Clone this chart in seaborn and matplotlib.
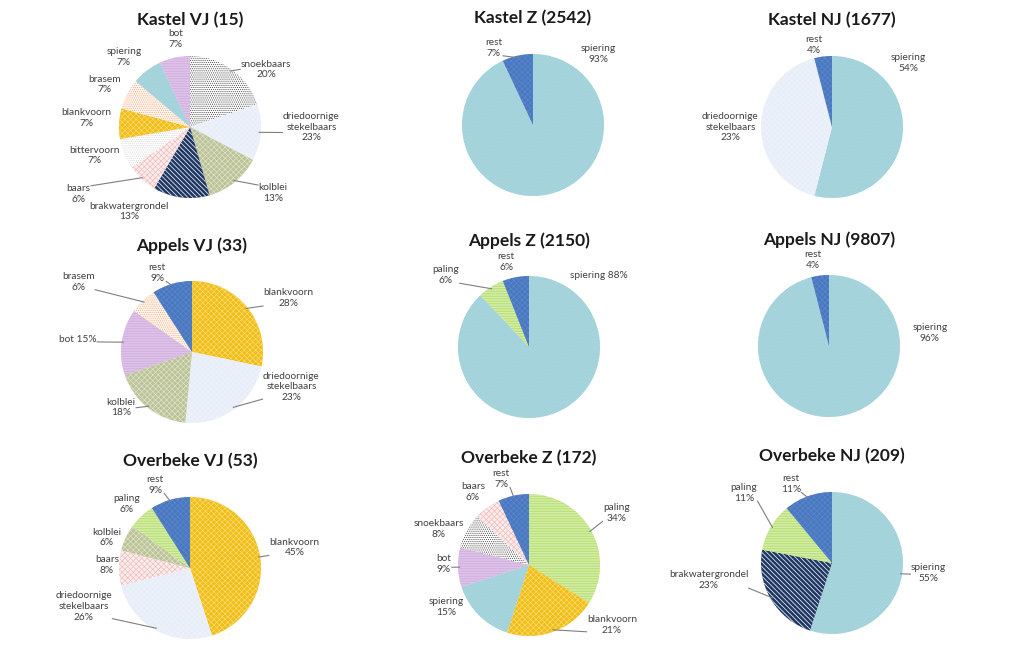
import numpy as np
import seaborn as sns
import matplotlib.pyplot as plt

sns.set_theme(style='white')
plt.rcParams['font.family'] = ['Lato', 'DejaVu Sans']
plt.rcParams['hatch.linewidth'] = 0.5

# every pie runs clockwise from 12 o'clock
# share = slice size as drawn, pct = percentage printed in the label
kastel_vj_species = ['snoekbaars', 'driedoornige stekelbaars', 'kolblei', 'brakwatergrondel', 'baars',
                     'bittervoorn', 'blankvoorn', 'brasem', 'spiering', 'bot']
kastel_vj_share = [20, 13, 13, 13, 7, 7, 7, 7, 7, 7]
kastel_vj_pct = [20, 23, 13, 13, 6, 7, 7, 7, 7, 7]

kastel_z_species = ['spiering', 'rest']
kastel_z_share = [93, 7]
kastel_z_pct = [93, 7]

kastel_nj_species = ['spiering', 'driedoornige stekelbaars', 'rest']
kastel_nj_share = [54, 42, 4]
kastel_nj_pct = [54, 23, 4]

appels_vj_species = ['blankvoorn', 'driedoornige stekelbaars', 'kolblei', 'bot', 'brasem', 'rest']
appels_vj_share = [28, 23, 18, 15, 6, 9]
appels_vj_pct = [28, 23, 18, 15, 6, 9]

appels_z_species = ['spiering', 'paling', 'rest']
appels_z_share = [88, 6, 6]
appels_z_pct = [88, 6, 6]

appels_nj_species = ['spiering', 'rest']
appels_nj_share = [96, 4]
appels_nj_pct = [96, 4]

overbeke_vj_species = ['blankvoorn', 'driedoornige stekelbaars', 'baars', 'kolblei', 'paling', 'rest']
overbeke_vj_share = [45, 26, 8, 6, 6, 9]
overbeke_vj_pct = [45, 26, 8, 6, 6, 9]

overbeke_z_species = ['paling', 'blankvoorn', 'spiering', 'bot', 'snoekbaars', 'baars', 'rest']
overbeke_z_share = [34, 21, 15, 9, 8, 6, 7]
overbeke_z_pct = [34, 21, 15, 9, 8, 6, 7]

overbeke_nj_species = ['spiering', 'brakwatergrondel', 'paling', 'rest']
overbeke_nj_share = [55, 23, 11, 11]
overbeke_nj_pct = [55, 23, 11, 11]

panels = [
    ('Kastel VJ (15)', kastel_vj_species, kastel_vj_share, kastel_vj_pct),
    ('Kastel Z (2542)', kastel_z_species, kastel_z_share, kastel_z_pct),
    ('Kastel NJ (1677)', kastel_nj_species, kastel_nj_share, kastel_nj_pct),
    ('Appels VJ (33)', appels_vj_species, appels_vj_share, appels_vj_pct),
    ('Appels Z (2150)', appels_z_species, appels_z_share, appels_z_pct),
    ('Appels NJ (9807)', appels_nj_species, appels_nj_share, appels_nj_pct),
    ('Overbeke VJ (53)', overbeke_vj_species, overbeke_vj_share, overbeke_vj_pct),
    ('Overbeke Z (172)', overbeke_z_species, overbeke_z_share, overbeke_z_pct),
    ('Overbeke NJ (209)', overbeke_nj_species, overbeke_nj_share, overbeke_nj_pct),
]

# facecolor, hatch, hatch colour
styles = {
    'spiering': ('#A8D6DE', '/' * 10, '#9FCED7'),
    'rest': ('#4A78C0', 'x' * 6, '#5A86CB'),
    'driedoornige stekelbaars': ('#E8EEF8', 'x' * 6, '#EEF2FA'),
    'blankvoorn': ('#F2BE14', 'x' * 6, '#F9DA78'),
    'kolblei': ('#BCC298', 'x' * 6, '#DDE2C6'),
    'brakwatergrondel': ('#1F3864', '\\' * 7, 'white'),
    'baars': ('#FCEDED', 'x' * 6, '#F1BDBD'),
    'bittervoorn': ('white', '.' * 8, '#D8D8D8'),
    'brasem': ('#FFF6F0', '.' * 8, '#F4B183'),
    'bot': ('#D2ADDF', '-' * 10, '#E4CFEC'),
    'snoekbaars': ('white', '.' * 8, '#4D4D4D'),
    'paling': ('#B3DE6A', '-' * 10, '#E6F4CC'),
}

# layout: pie centres in pixels (x from left, y from top), radius in pixels,
# label positions in pie radii (x, y, leader line)
R = 71
centres = [(190, 127), (533, 125), (832, 127),
           (192, 352), (529, 347), (829, 346),
           (190, 568), (529, 565), (832, 563)]
label_pos = [
    [(1.07, 0.81, True), (1.71, 0.0, True), (1.17, -0.93, True), (-0.86, -1.19, False),
     (-1.57, -0.94, True), (-1.34, -0.4, False), (-1.46, 0.13, False), (-1.21, 0.6, False),
     (-0.93, 0.99, False), (-0.2, 1.24, False)],
    [(0.92, 1.0, False), (-0.55, 1.08, True)],
    [(1.07, 0.9, False), (-1.43, 0.0, False), (-0.26, 1.15, False)],
    [(1.36, 0.76, True), (1.4, -0.49, True), (-1.0, -0.78, True), (-1.61, 0.18, True),
     (-1.6, 0.99, True), (-0.49, 1.11, True)],
    [(0.99, 1.01, False), (-1.17, 1.01, True), (-0.32, 1.2, False)],
    [(1.42, 0.18, False), (-0.23, 1.21, False)],
    [(1.47, 0.29, True), (-1.5, -0.54, True), (-1.17, 0.04, False), (-1.17, 0.43, False),
     (-0.89, 0.9, False), (-0.49, 1.17, True)],
    [(1.23, 0.73, True), (1.17, -0.85, True), (-1.17, -0.59, False), (-1.2, 0.01, True),
     (-1.27, 0.51, False), (-0.79, 1.03, False), (-0.39, 1.21, True)],
    [(1.36, -0.14, True), (-1.74, -0.24, True), (-1.24, 0.99, True), (-0.58, 1.11, True)],
]
inline = {(3, 'bot'), (4, 'spiering')}

W, H = 1024, 664
fig = plt.figure(figsize=(W / 100, H / 100), dpi=100)
half = 160
leaders = []

for i, (title, species, share, pct) in enumerate(panels):
    cx, cy = centres[i]
    ax = fig.add_axes([(cx - half) / W, (H - cy - half) / H, 2 * half / W, 2 * half / H])
    wedges, _ = ax.pie(share, startangle=90, counterclock=False, radius=1.0,
                       wedgeprops=dict(linewidth=0))
    for w, sp in zip(wedges, species):
        face, hatch, hcol = styles[sp]
        w.set_facecolor(face)
        w.set_edgecolor(hcol)
        w.set_hatch(hatch)
        w.set_linewidth(0)
    lim = half / R
    ax.set_xlim(-lim, lim)
    ax.set_ylim(-lim, lim)
    ax.set_aspect('equal')
    ax.axis('off')

    ax.text(0, 1.5, title, ha='center', va='center', fontsize=12.5,
            fontweight='bold', color='#1a1a1a')

    total = float(np.sum(share))
    start = 0.0
    for j, (sp, s, p) in enumerate(zip(species, share, pct)):
        mid = np.deg2rad((start + s / 2) / total * 360)
        start += s
        name = sp.replace('driedoornige ', 'driedoornige\n')
        sep = ' ' if (i, sp) in inline else '\n'
        lx, ly, lead = label_pos[i][j]
        t = ax.text(lx, ly, f'{name}{sep}{p}%', ha='center', va='center',
                    fontsize=7.3, color='#404040', linespacing=1.25)
        if lead:
            leaders.append((ax, t, np.sin(mid), np.cos(mid)))

# leader lines from label box to slice edge
fig.canvas.draw()
rend = fig.canvas.get_renderer()
for ax, t, ex, ey in leaders:
    bb = t.get_window_extent(rend).transformed(ax.transData.inverted())
    px = min(max(ex, bb.x0), bb.x1)
    py = min(max(ey, bb.y0), bb.y1)
    if px in (bb.x0, bb.x1):
        py = min(max(ey, bb.y0 + 0.1 * bb.height), bb.y1 - 0.1 * bb.height)
    ax.plot([px, ex * 0.97], [py, ey * 0.97], color='#7F7F7F', lw=0.8, solid_capstyle='butt')

fig.savefig('out.png', dpi=100, facecolor='white')
